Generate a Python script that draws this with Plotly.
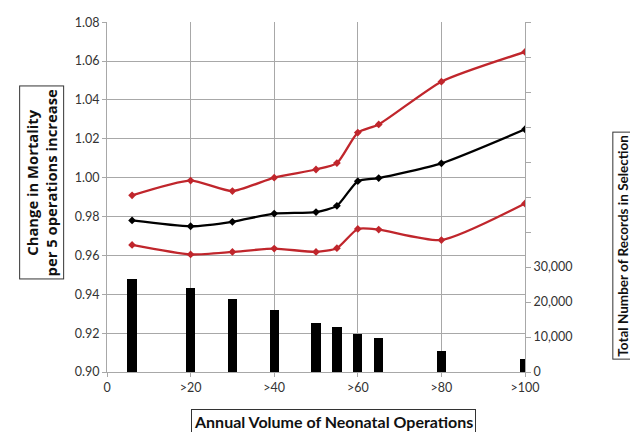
import plotly.graph_objects as go

x_pos = [6, 20, 30, 40, 50, 55, 60, 65, 80, 100]
estimate = [0.978, 0.975, 0.9773, 0.9815, 0.9823, 0.9855, 0.9982, 0.9998, 1.0074, 1.0249]
upper_ci = [0.9909, 0.9985, 0.9931, 1.0000, 1.0042, 1.0075, 1.0232, 1.0274, 1.0494, 1.0647]
lower_ci = [0.9654, 0.9605, 0.9618, 0.9635, 0.9618, 0.9637, 0.9736, 0.9733, 0.9679, 0.9867]
records = [26470, 23970, 20830, 17690, 14080, 12780, 10920, 9810, 6110, 3800]

x_tickvals = [0, 20, 40, 60, 80, 100]
x_ticktext = ["0", ">20", ">40", ">60", ">80", ">100"]
y_tickvals = [0.90, 0.92, 0.94, 0.96, 0.98, 1.00, 1.02, 1.04, 1.06, 1.08]
y_ticktext = ["0.90", "0.92", "0.94", "0.96", "0.98", "1.00", "1.02", "1.04", "1.06", "1.08"]
y2_tickvals = [0, 10000, 20000, 30000, 40000, 50000, 60000, 70000, 80000, 90000, 100000]
y2_ticktext = ["0", "10,000", "20,000", "30,000", "", "", "", "", "", "", ""]

RED = "#C0262C"
FONT = "Lato"
GRID = "#A8A8A8"

fig = go.Figure()
fig.add_trace(go.Bar(x=x_pos, y=records, yaxis="y2", width=2.2,
                     marker=dict(color="black", line=dict(width=0)), showlegend=False))
for ys, col in [(upper_ci, RED), (lower_ci, RED), (estimate, "black")]:
    fig.add_trace(go.Scatter(x=x_pos, y=ys, mode="lines+markers",
                             line=dict(color=col, width=2.3, shape="spline", smoothing=0.6),
                             marker=dict(symbol="diamond", size=6, color=col),
                             showlegend=False))

axis_common = dict(showline=True, linecolor=GRID, ticks="outside", tickcolor=GRID,
                   zeroline=False, ticklabeloverflow="allow",
                   tickfont=dict(family=FONT, size=12.5, color="#333"))

# page body has an 8px margin; figure sized so the visible plot lands where the reference has it
fig.update_layout(
    width=630, height=424,
    margin=dict(l=99, r=113, t=7, b=60),
    paper_bgcolor="white", plot_bgcolor="white",
    font=dict(family=FONT, size=12.5, color="#333"),
    bargap=0,
    xaxis=dict(range=[0, 100], tickvals=x_tickvals, ticktext=x_ticktext,
               showgrid=True, gridcolor=GRID, gridwidth=1, ticklen=4, **axis_common),
    yaxis=dict(range=[0.90, 1.0801], tickvals=y_tickvals, ticktext=y_ticktext,
               showgrid=True, gridcolor=GRID, gridwidth=1, ticklen=4, **axis_common),
    yaxis2=dict(range=[0, 100000], overlaying="y", side="right",
                tickvals=y2_tickvals, ticktext=y2_ticktext,
                showgrid=False, ticklen=5, **axis_common),
)

box = dict(showarrow=False, bordercolor="#333", borderwidth=1, borderpad=2,
           bgcolor="white", xref="paper", yref="paper")
fig.add_annotation(text="<b>Change in Mortality<br>per 5 operations increase</b>",
                   x=-0.156, y=0.541, xanchor="center", yanchor="middle", textangle=-90,
                   font=dict(family="Open Sans", size=14.8, color="#111"), **box)
fig.add_annotation(text="<b>Total Number of Records in Selection</b>",
                   x=1.2344, y=0.361, xanchor="center", yanchor="middle", textangle=-90,
                   font=dict(family=FONT, size=13.5, color="#111"), **box)
fig.add_annotation(text="<b>Annual Volume of Neonatal Operations</b>",
                   x=0.5407, y=-0.140, xanchor="center", yanchor="middle",
                   font=dict(family=FONT, size=16, color="#111"), **box)

fig.write_html("out.html")
